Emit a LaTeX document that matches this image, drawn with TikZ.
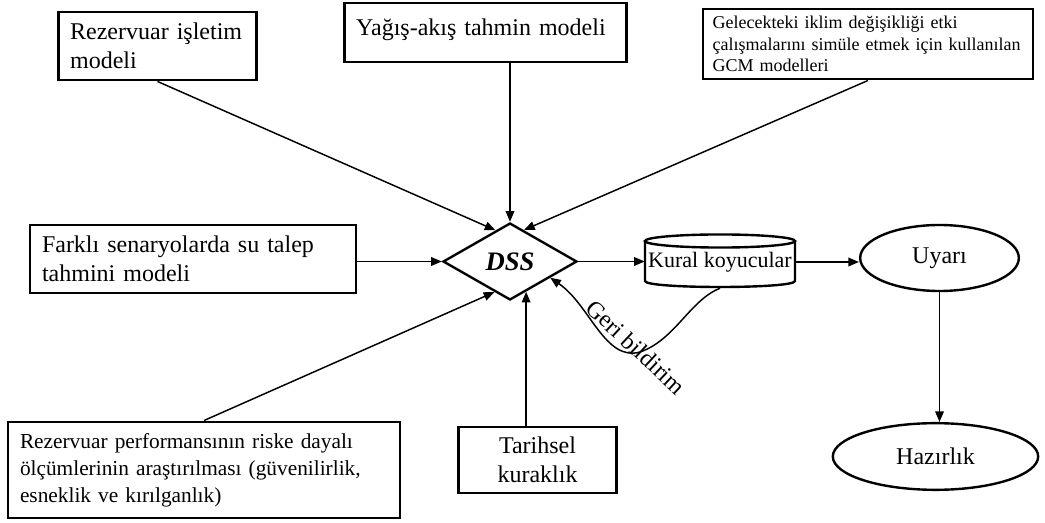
\documentclass[tikz,border=0pt]{standalone}
\usepackage{fontspec}
\setmainfont{Liberation Serif}
\usetikzlibrary{shapes.geometric,arrows.meta}

\tikzset{
  box/.style={draw, line width=2.2pt, align=left, inner xsep=9pt, inner ysep=3pt, font=\fontsize{18}{22}\selectfont},
  dssnode/.style={draw, diamond, line width=1.8pt, minimum width=100.5pt, minimum height=57.75pt, inner sep=0pt, font=\fontsize{20}{24}\selectfont\bfseries\itshape},
  oval/.style={draw, ellipse, line width=1.8pt, font=\fontsize{18}{22}\selectfont},
  cyl/.style={line width=1.8pt},
  flow/.style={line width=1.1pt, -{Triangle[length=8pt,width=6.5pt]}},
}

\begin{document}
\begin{tikzpicture}[x=0.75pt, y=-0.75pt]
% Page size
\useasboundingbox (0,0) rectangle (1045,523);

% Input models
\node[box, text width=131pt, minimum height=51pt] (rez) at (157.5,46) {Rezervuar işletim\\modeli};
\node[box, text width=194pt, minimum height=44.25pt, text depth=8pt] (yagis) at (485.5,32.5) {Yağış-akış tahmin modeli};
\node[box, text width=233pt, minimum height=52.5pt, inner xsep=7.25pt, inner ysep=2pt, font=\fontsize{13.5}{16}\selectfont] (gcm) at (868,44) {Gelecekteki iklim değişikliği etki\\çalışmalarını simüle etmek için kullanılan\\GCM modelleri};
\node[box, text width=226.5pt, minimum height=51pt] (farkli) at (193,259) {Farklı senaryolarda su talep\\tahmini modeli};
\node[box, text width=276pt, minimum height=72pt, font=\fontsize{16}{20.25}\selectfont] (risk) at (204,470) {Rezervuar performansının riske dayalı\\ölçümlerinin araştırılması (güvenilirlik,\\esneklik ve kırılganlık)};
\node[box, align=center, text width=101pt, minimum height=49.5pt] (tarih) at (537.5,460) {Tarihsel\\kuraklık};

% Decision support system
\node[dssnode] (dss) at (510,261.5) {DSS};

% Rule makers (cylinder)
\draw[cyl] (645,241) -- (645,281) .. controls (645,289) and (795,289) .. (795,281) -- (795,241);
\draw[cyl] (720,241) ellipse [x radius=56.25pt, y radius=4.9pt];
\node[minimum width=112.5pt, minimum height=39pt, inner sep=0pt, font=\fontsize{16.5}{20}\selectfont] (kural) at (720,262) {Kural koyucular};

% Outputs
\node[oval, minimum width=119pt, minimum height=49.5pt] (uyari) at (939.5,258) {Uyarı};
\node[oval, minimum width=154pt, minimum height=50pt] (hazir) at (935.5,456.5) {Hazırlık};

% Arrows
\draw[flow] (rez.south) -- (dss.115);
\draw[flow] (dss.north |- yagis.south) -- (dss.north);
\draw[flow] (gcm.south) -- (dss.66);
\draw[flow] (farkli.east |- dss.west) -- (dss.west);
\draw[flow] (risk.north) -- (dss.-117);
\draw[flow] (tarih.north -| dss.-62) -- (dss.-62);
\draw[flow] (dss.east) -- (dss.east -| kural.west);
\draw[flow] (kural.east) -- (kural.east -| uyari.west);
\draw[flow] (uyari.south) -- (uyari.south |- hazir.north);

% Feedback loop
\draw[flow] (kural.south) .. controls (690,300) and (675,340) .. (640,352) .. controls (605,362) and (590,305) .. (dss.-22);
\node[font=\fontsize{18}{22}\selectfont, rotate=-43] (geri) at (636,347) {Geri bildirim};
\end{tikzpicture}
\end{document}
